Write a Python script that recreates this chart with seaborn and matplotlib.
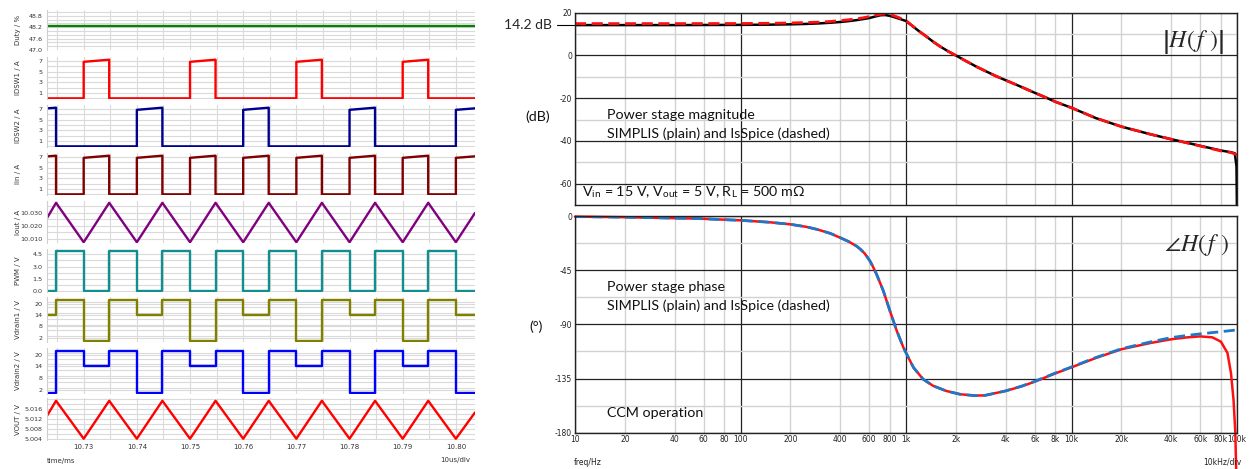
import matplotlib
matplotlib.use("Agg")
import matplotlib.pyplot as plt
import seaborn as sns
from matplotlib.ticker import MultipleLocator, FixedLocator

W, H = 1249, 469

# ---------------- switching waveforms (time in ms) ----------------
t_start, t_end = 10.7231, 10.8036
# PWM edges: rise, fall, rise, fall ...
edges = [10.7248, 10.7300, 10.7348, 10.7400, 10.7448, 10.7500, 10.7548, 10.7600,
         10.7648, 10.7700, 10.7748, 10.7800, 10.7848, 10.7900, 10.7948, 10.8000]
duty_pct = 48.28
# level in each interval between start / edges / end (17 intervals)
pwm_state = [0, 4.95, 0, 4.95, 0, 4.95, 0, 4.95, 0, 4.95, 0, 4.95, 0, 4.95, 0, 4.95, 0]
vd1_state = [14, 22, 0.5, 22, 14, 22, 0.5, 22, 14, 22, 0.5, 22, 14, 22, 0.5, 22, 14]
vd2_state = [0.5, 22, 14, 22, 0.5, 22, 14, 22, 0.5, 22, 14, 22, 0.5, 22, 14, 22, 0.5]
idsw1_on = [0, 0, 1, 0, 0, 0, 1, 0, 0, 0, 1, 0, 0, 0, 1, 0, 0]
idsw2_on = [1, 0, 0, 0, 1, 0, 0, 0, 1, 0, 0, 0, 1, 0, 0, 0, 1]
iin_on = [1, 0, 1, 0, 1, 0, 1, 0, 1, 0, 1, 0, 1, 0, 1, 0, 1]
i_ramp = [6.8, 7.2]
i_first = [7.07, 7.2]
i_last = [6.8, 7.08]
iout_pk, iout_vl, iout_ends = 10.0378, 10.0074, [10.026, 10.030]
vout_pk, vout_vl, vout_ends = 5.0192, 5.0043, [5.0133, 5.0146]

# ---------------- Bode data ----------------
mag_freq = [10, 20, 40, 100, 150, 200, 250, 300, 350, 400, 450, 500, 550, 600, 650, 700,
            750, 800, 850, 900, 950, 1000, 1100, 1210, 1300, 1460, 1600, 1800, 2000,
            2300, 2670, 3000, 3500, 4000, 5000, 6000, 7000, 8000, 10000, 14000, 20000,
            30000, 40000, 60000, 80000, 92000, 97000, 99300, 100000]
mag_simplis = [14.2, 14.2, 14.2, 14.3, 14.4, 14.55, 14.75, 15.0, 15.3, 15.65, 16.05, 16.5,
               17.0, 17.5, 18.2, 18.8, 18.9, 18.5, 17.9, 17.3, 16.7, 16.1, 13.6, 11.1,
               9.4, 6.4, 4.3, 1.9, 0.0, -2.6, -5.3, -7.2, -9.7, -11.6, -14.8, -17.5,
               -19.7, -21.7, -24.5, -29.3, -33.3, -36.9, -39.2, -42.3, -44.5, -45.3,
               -45.8, -52, -75]
mag_isspice = [14.9, 14.9, 14.9, 14.95, 15.05, 15.2, 15.4, 15.6, 15.9, 16.3, 16.7, 17.1,
               17.6, 18.2, 18.8, 19.2, 19.35, 19.1, 18.5, 17.8, 17.0, 16.3, 13.7, 11.1,
               9.4, 6.4, 4.3, 1.9, 0.0, -2.6, -5.3, -7.2, -9.7, -11.6, -14.8, -17.5,
               -19.7, -21.7, -24.5, -29.3, -33.3, -36.9, -39.2, -42.4, -44.7, -45.5,
               -46.1, -46.4, -46.5]

ph_freq = [10, 20, 40, 57, 100, 150, 200, 250, 290, 350, 400, 450, 505, 530, 560, 580,
           607, 630, 664, 730, 800, 880, 965, 1010, 1110, 1270, 1460, 1750, 2110, 2600,
           3000, 4000, 5000, 6000, 8000, 10000, 14000, 20000, 30000, 40000, 50000, 60000,
           71000, 80000, 87600, 92000, 95300, 97700, 98800]
ph_simplis = [-0.5, -1.0, -1.8, -2.2, -3.6, -5.2, -6.9, -9.0, -11.1, -14.5, -18.0, -21.2,
              -25.2, -27.6, -30.8, -33.6, -37.6, -41.8, -48.4, -62.3, -78.9, -95.5,
              -109.3, -114.8, -125.9, -135.6, -141.1, -145.3, -148.0, -149.2, -149.0,
              -145.3, -141.5, -137.6, -130.7, -125.7, -118.0, -110.7, -105.5, -102.4,
              -100.8, -100.0, -100.8, -104.4, -113.8, -130.7, -152.8, -180, -210]
ph_isspice_freq = ph_freq[:39] + [40000, 50000, 60000, 80000, 100000]
ph_isspice = [-0.5, -1.0, -1.8, -2.2, -3.6, -5.2, -6.9, -9.0, -11.1, -14.5, -18.0, -21.2,
              -25.2, -27.6, -30.8, -33.6, -37.6, -41.8, -48.4, -62.3, -78.9, -95.5,
              -109.3, -114.8, -125.9, -135.6, -141.1, -145.3, -148.0, -149.2, -149.0,
              -145.3, -141.3, -137.3, -130.4, -125.4, -117.6, -110.3, -104.6, -101.0,
              -99.2, -97.9, -96.1, -94.6]

f_major = [10, 100, 1000, 10000, 100000]
f_major_lbl = ["10", "100", "1k", "10k", "100k"]
f_minor = [20, 40, 60, 80, 200, 400, 600, 800, 2000, 4000, 6000, 8000,
           20000, 40000, 60000, 80000]
f_minor_lbl = ["20", "40", "60", "80", "200", "400", "600", "800", "2k", "4k", "6k",
               "8k", "20k", "40k", "60k", "80k"]

bounds = [t_start] + edges + [t_end]


def step_trace(states):
    xs, ys = [], []
    for i, s in enumerate(states):
        xs += [bounds[i], bounds[i + 1]]
        ys += [s, s]
    return xs, ys


def pulse_trace(on):
    xs, ys = [], []
    n = len(on)
    for i, flag in enumerate(on):
        a, b = bounds[i], bounds[i + 1]
        if not flag:
            xs += [a, b]
            ys += [0, 0]
            continue
        lo, hi = i_first if i == 0 else (i_last if i == n - 1 else i_ramp)
        if i > 0:
            xs.append(a); ys.append(0)
        xs += [a, b]
        ys += [lo, hi]
        if i < n - 1:
            xs.append(b); ys.append(0)
    return xs, ys


def tri_trace(pk, vl, ends):
    ys = [ends[0]] + [pk if k % 2 == 0 else vl for k in range(len(edges))] + [ends[1]]
    return bounds, ys


sns.set_style("white")
plt.rcParams["font.family"] = ["DejaVu Sans"]
plt.rcParams["mathtext.fontset"] = "stix"

fig = plt.figure(figsize=(W / 100, H / 100), dpi=100)

rows = [(10, 50), (57, 99), (105, 147), (153, 195), (201, 243), (249, 292),
        (297, 342), (348, 394), (398, 440)]
panels = [
    ("Duty / %", (47.0, 49.1), [47.0, 47.6, 48.2, 48.8], 0.2, "{:.1f}",
     ([t_start, t_end], [duty_pct, duty_pct]), "#0a7d0a"),
    ("IDSW1 / A", (-0.12, 7.7), [1, 3, 5, 7], 1, "{:.0f}", pulse_trace(idsw1_on), "#ff0000"),
    ("IDSW2 / A", (-0.12, 7.7), [1, 3, 5, 7], 1, "{:.0f}", pulse_trace(idsw2_on), "#000090"),
    ("Iin / A", (-0.12, 7.7), [1, 3, 5, 7], 1, "{:.0f}", pulse_trace(iin_on), "#800000"),
    ("Iout / A", (10.0068, 10.0392), [10.010, 10.020, 10.030], 0.005, "{:.3f}",
     tri_trace(iout_pk, iout_vl, iout_ends), "#800080"),
    ("PWM / V", (-0.1, 5.15), [0.0, 1.5, 3.0, 4.5], 0.75, "{:.1f}",
     step_trace(pwm_state), "#138e8e"),
    ("Vdrain1 / V", (-0.2, 23.5), [2, 8, 14, 20], 3, "{:.0f}", step_trace(vd1_state), "#808000"),
    ("Vdrain2 / V", (-0.2, 23.5), [2, 8, 14, 20], 3, "{:.0f}", step_trace(vd2_state), "#0000ff"),
    ("VOUT / V", (5.0038, 5.0203), [5.004, 5.008, 5.012, 5.016], 0.002, "{:.3f}",
     tri_trace(vout_pk, vout_vl, vout_ends), "#ff0000"),
]

t_ticks = [10.73, 10.74, 10.75, 10.76, 10.77, 10.78, 10.79, 10.80]
for k, ((top, bot), (lbl, ylim, yt, ymin, fmt, (xs, ys), col)) in enumerate(zip(rows, panels)):
    ax = fig.add_axes([47 / W, 1 - bot / H, 428 / W, (bot - top) / H])
    sns.lineplot(x=xs, y=ys, estimator=None, sort=False, color=col, lw=1.7, ax=ax)
    ax.set_xlim(t_start, t_end)
    ax.set_ylim(*ylim)
    ax.set_yticks(yt, [fmt.format(v) for v in yt])
    ax.yaxis.set_minor_locator(MultipleLocator(ymin))
    ax.xaxis.set_major_locator(FixedLocator(t_ticks))
    ax.xaxis.set_minor_locator(MultipleLocator(0.005))
    ax.grid(which="both", color="#dadada", lw=0.8)
    ax.set_axisbelow(True)
    for s in ["top", "right", "bottom"]:
        ax.spines[s].set_visible(False)
    ax.spines["left"].set_color("#cfcfcf")
    ax.tick_params(which="both", length=0, labelsize=4.6, pad=3, colors="#333333")
    ax.set_ylabel(lbl, fontsize=5, color="#333333")
    ax.yaxis.set_label_coords(-0.06, 0.5)
    if k < len(rows) - 1:
        ax.set_xticklabels([])
    else:
        ax.set_xticks(t_ticks, [f"{v:.2f}" for v in t_ticks])
        ax.tick_params(axis="x", labelsize=5)

fig.text(47 / W, 1 - 461 / H, "time/ms", fontsize=5, va="center", color="#333333")
fig.text(470 / W, 1 - 460 / H, "10us/div", fontsize=5, va="center", ha="right", color="#333333")

# ---------------- Bode plots ----------------
ax_m = fig.add_axes([575 / W, 1 - 205 / H, 662 / W, 192.3 / H])
ax_p = fig.add_axes([575 / W, 1 - 432.7 / H, 662 / W, 216.7 / H])

sns.lineplot(x=mag_freq, y=mag_simplis, estimator=None, sort=False, color="black", lw=1.8, ax=ax_m)
sns.lineplot(x=mag_freq, y=mag_isspice, estimator=None, sort=False, color="#ff1010", lw=2.0,
             ax=ax_m, linestyle=(0, (4, 2)))
sns.lineplot(x=ph_freq, y=ph_simplis, estimator=None, sort=False, color="#ff1010", lw=1.8,
             ax=ax_p, clip_on=False)
sns.lineplot(x=ph_isspice_freq, y=ph_isspice, estimator=None, sort=False, color="#1f77c8",
             lw=2.0, ax=ax_p, linestyle=(0, (4, 2)))

for ax, ylim, ymaj, ymin in [(ax_m, (-70, 20), [20, 0, -20, -40, -60], [10, -10, -30, -50]),
                             (ax_p, (-180, 0), [0, -45, -90, -135, -180],
                              [-22.5, -67.5, -112.5, -157.5])]:
    ax.set_xscale("log")
    ax.set_xlim(10, 100000)
    ax.set_ylim(*ylim)
    ax.set_yticks(ymaj, [str(v) for v in ymaj])
    ax.set_yticks(ymin, minor=True)
    ax.set_xticks(f_major, f_major_lbl)
    ax.set_xticks(f_minor, f_minor_lbl, minor=True)
    ax.grid(which="major", color="#222222", lw=0.9)
    ax.grid(which="minor", color="#d2d2d2", lw=1.0)
    ax.set_axisbelow(True)
    for s in ax.spines.values():
        s.set_color("#222222")
        s.set_linewidth(1.0)
    ax.tick_params(which="both", length=0, labelsize=5.5, pad=2, colors="#222222")
    ax.tick_params(axis="y", which="minor", labelleft=False)

ax_m.tick_params(axis="x", which="both", labelbottom=False)

# 14.2 dB marker
ax_m.plot([-0.027, 0], [14.2, 14.2], transform=ax_m.get_yaxis_transform(),
          clip_on=False, color="black", lw=0.8)
ax_m.text(-0.034, 14.2, "14.2 dB", transform=ax_m.get_yaxis_transform(),
          ha="right", va="center", fontsize=10, family="Lato")

txt = dict(fontsize=10.3, family="Lato", va="center", color="#111111")
fig.text(525 / W, 1 - 117 / H, "(dB)", **txt)
fig.text(607 / W, 1 - 115 / H, "Power stage magnitude", **txt)
fig.text(607 / W, 1 - 134 / H, "SIMPLIS (plain) and IsSpice (dashed)", **txt)
fig.text(582 / W, 1 - 192 / H,
         r"V$_\mathregular{in}$ = 15 V, V$_\mathregular{out}$ = 5 V, R$_\mathregular{L}$ = 500 mΩ",
         **txt)
fig.text(607 / W, 1 - 287 / H, "Power stage phase", **txt)
fig.text(607 / W, 1 - 306 / H, "SIMPLIS (plain) and IsSpice (dashed)", **txt)
fig.text(607 / W, 1 - 413 / H, "CCM operation", **txt)
fig.text(529 / W, 1 - 327 / H, "(°)", **txt)

fig.text(1193 / W, 1 - 42 / H, r"$\left|H\left(\,f^{\,}_{\,}\right)\right|$", fontsize=17,
         ha="center", va="center")
fig.text(1197 / W, 1 - 245 / H, r"$\angle H\left(\,f^{\,}_{\,}\right)$", fontsize=17,
         ha="center", va="center")

fig.text(574 / W, 1 - 462 / H, "freq/Hz", fontsize=5.5, va="center", color="#222222")
fig.text(1241 / W, 1 - 462 / H, "10kHz/div", fontsize=5.5, va="center", ha="right",
         color="#222222")

fig.savefig("out.png", dpi=100)
